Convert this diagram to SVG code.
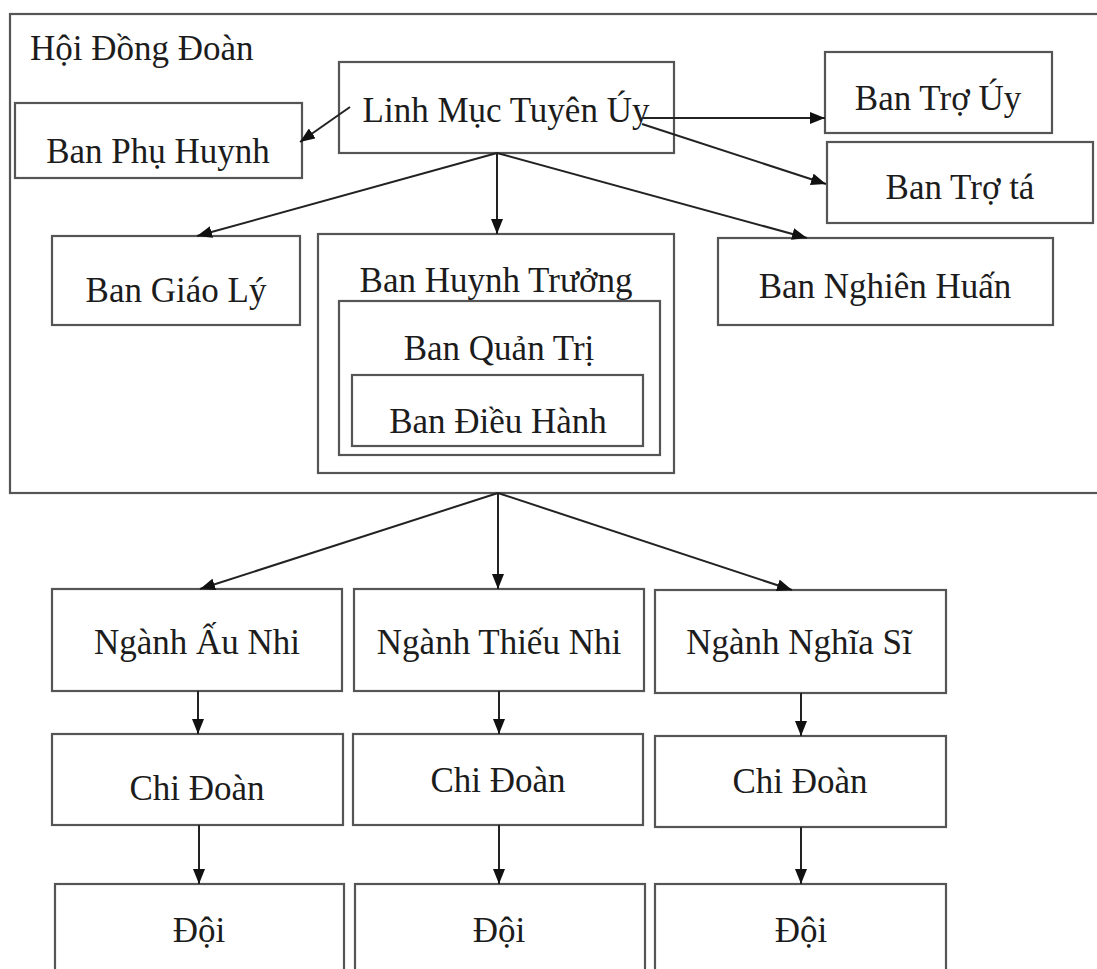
<svg xmlns="http://www.w3.org/2000/svg" width="1097" height="969" viewBox="0 0 1097 969">
<defs>
<marker id="ah" markerUnits="userSpaceOnUse" markerWidth="15" markerHeight="12" viewBox="0 0 15 12" refX="15" refY="6" orient="auto">
<path d="M0,0 L15,6 L0,12 Z" fill="#111"/>
</marker>
<style>
.box{fill:#fff;stroke:#555;stroke-width:2.2}
.t{font-family:"Liberation Serif","Times New Roman",serif;font-size:35px;fill:#1c1c1c;text-anchor:middle}
.c{stroke:#222;stroke-width:2;fill:none;marker-end:url(#ah)}
</style>
</defs>
<rect width="1097" height="969" fill="#fff"/>
<g id="hoi-dong-doan">
<rect class="box" x="10" y="14" width="1100" height="479"/>
<text class="t" x="30" y="60" style="text-anchor:start">Hội Đồng Đoàn</text>
</g>
<g id="linh-muc">
<rect class="box" x="339" y="62" width="335" height="91"/>
<text class="t" x="506" y="122">Linh Mục Tuyên Úy</text>
</g>
<g id="ban-phu-huynh">
<rect class="box" x="15" y="103" width="287" height="75"/>
<text class="t" x="158" y="163">Ban Phụ Huynh</text>
</g>
<g id="ban-tro-uy">
<rect class="box" x="825" y="52" width="227" height="81"/>
<text class="t" x="938" y="110">Ban Trợ Úy</text>
</g>
<g id="ban-tro-ta">
<rect class="box" x="827" y="142" width="266" height="81"/>
<text class="t" x="960" y="199">Ban Trợ tá</text>
</g>
<g id="ban-giao-ly">
<rect class="box" x="52" y="236" width="248" height="89"/>
<text class="t" x="176" y="302">Ban Giáo Lý</text>
</g>
<g id="ban-huynh-truong">
<rect class="box" x="318" y="234" width="356" height="239"/>
<text class="t" x="496" y="292">Ban Huynh Trưởng</text>
</g>
<g id="ban-quan-tri">
<rect class="box" x="339" y="301" width="321" height="154"/>
<text class="t" x="499" y="360">Ban Quản Trị</text>
</g>
<g id="ban-dieu-hanh">
<rect class="box" x="352" y="375" width="291" height="71"/>
<text class="t" x="498" y="433">Ban Điều Hành</text>
</g>
<g id="ban-nghien-huan">
<rect class="box" x="718" y="238" width="335" height="87"/>
<text class="t" x="885" y="298">Ban Nghiên Huấn</text>
</g>
<g id="nganh-au-nhi">
<rect class="box" x="52" y="589" width="290" height="102"/>
<text class="t" x="197" y="654">Ngành Ấu Nhi</text>
</g>
<g id="nganh-thieu-nhi">
<rect class="box" x="354" y="589" width="290" height="102"/>
<text class="t" x="499" y="654">Ngành Thiếu Nhi</text>
</g>
<g id="nganh-nghia-si">
<rect class="box" x="655" y="590" width="291" height="103"/>
<text class="t" x="799" y="654">Ngành Nghĩa Sĩ</text>
</g>
<g id="chi-doan-1">
<rect class="box" x="52" y="734" width="291" height="91"/>
<text class="t" x="197" y="800">Chi Đoàn</text>
</g>
<g id="chi-doan-2">
<rect class="box" x="353" y="734" width="290" height="91"/>
<text class="t" x="498" y="792">Chi Đoàn</text>
</g>
<g id="chi-doan-3">
<rect class="box" x="655" y="736" width="291" height="91"/>
<text class="t" x="800" y="793">Chi Đoàn</text>
</g>
<g id="doi-1">
<rect class="box" x="55" y="884" width="289" height="100"/>
<text class="t" x="199" y="942">Đội</text>
</g>
<g id="doi-2">
<rect class="box" x="355" y="884" width="290" height="100"/>
<text class="t" x="499" y="942">Đội</text>
</g>
<g id="doi-3">
<rect class="box" x="655" y="884" width="291" height="100"/>
<text class="t" x="801" y="942">Đội</text>
</g>
<g id="connectors">
<line class="c" x1="350" y1="107" x2="300" y2="142"/>
<line class="c" x1="643" y1="118" x2="825" y2="118"/>
<line class="c" x1="642" y1="124" x2="826" y2="184"/>
<line class="c" x1="497" y1="153" x2="197" y2="236"/>
<line class="c" x1="497" y1="153" x2="497" y2="234"/>
<line class="c" x1="497" y1="153" x2="807" y2="238"/>
<line class="c" x1="498" y1="493" x2="200" y2="589"/>
<line class="c" x1="498" y1="493" x2="498" y2="589"/>
<line class="c" x1="498" y1="493" x2="792" y2="590"/>
<line class="c" x1="198" y1="691" x2="198" y2="734"/>
<line class="c" x1="499" y1="691" x2="499" y2="734"/>
<line class="c" x1="801" y1="693" x2="801" y2="736"/>
<line class="c" x1="199" y1="825" x2="199" y2="884"/>
<line class="c" x1="499" y1="825" x2="499" y2="884"/>
<line class="c" x1="801" y1="827" x2="801" y2="884"/>
</g>
</svg>
